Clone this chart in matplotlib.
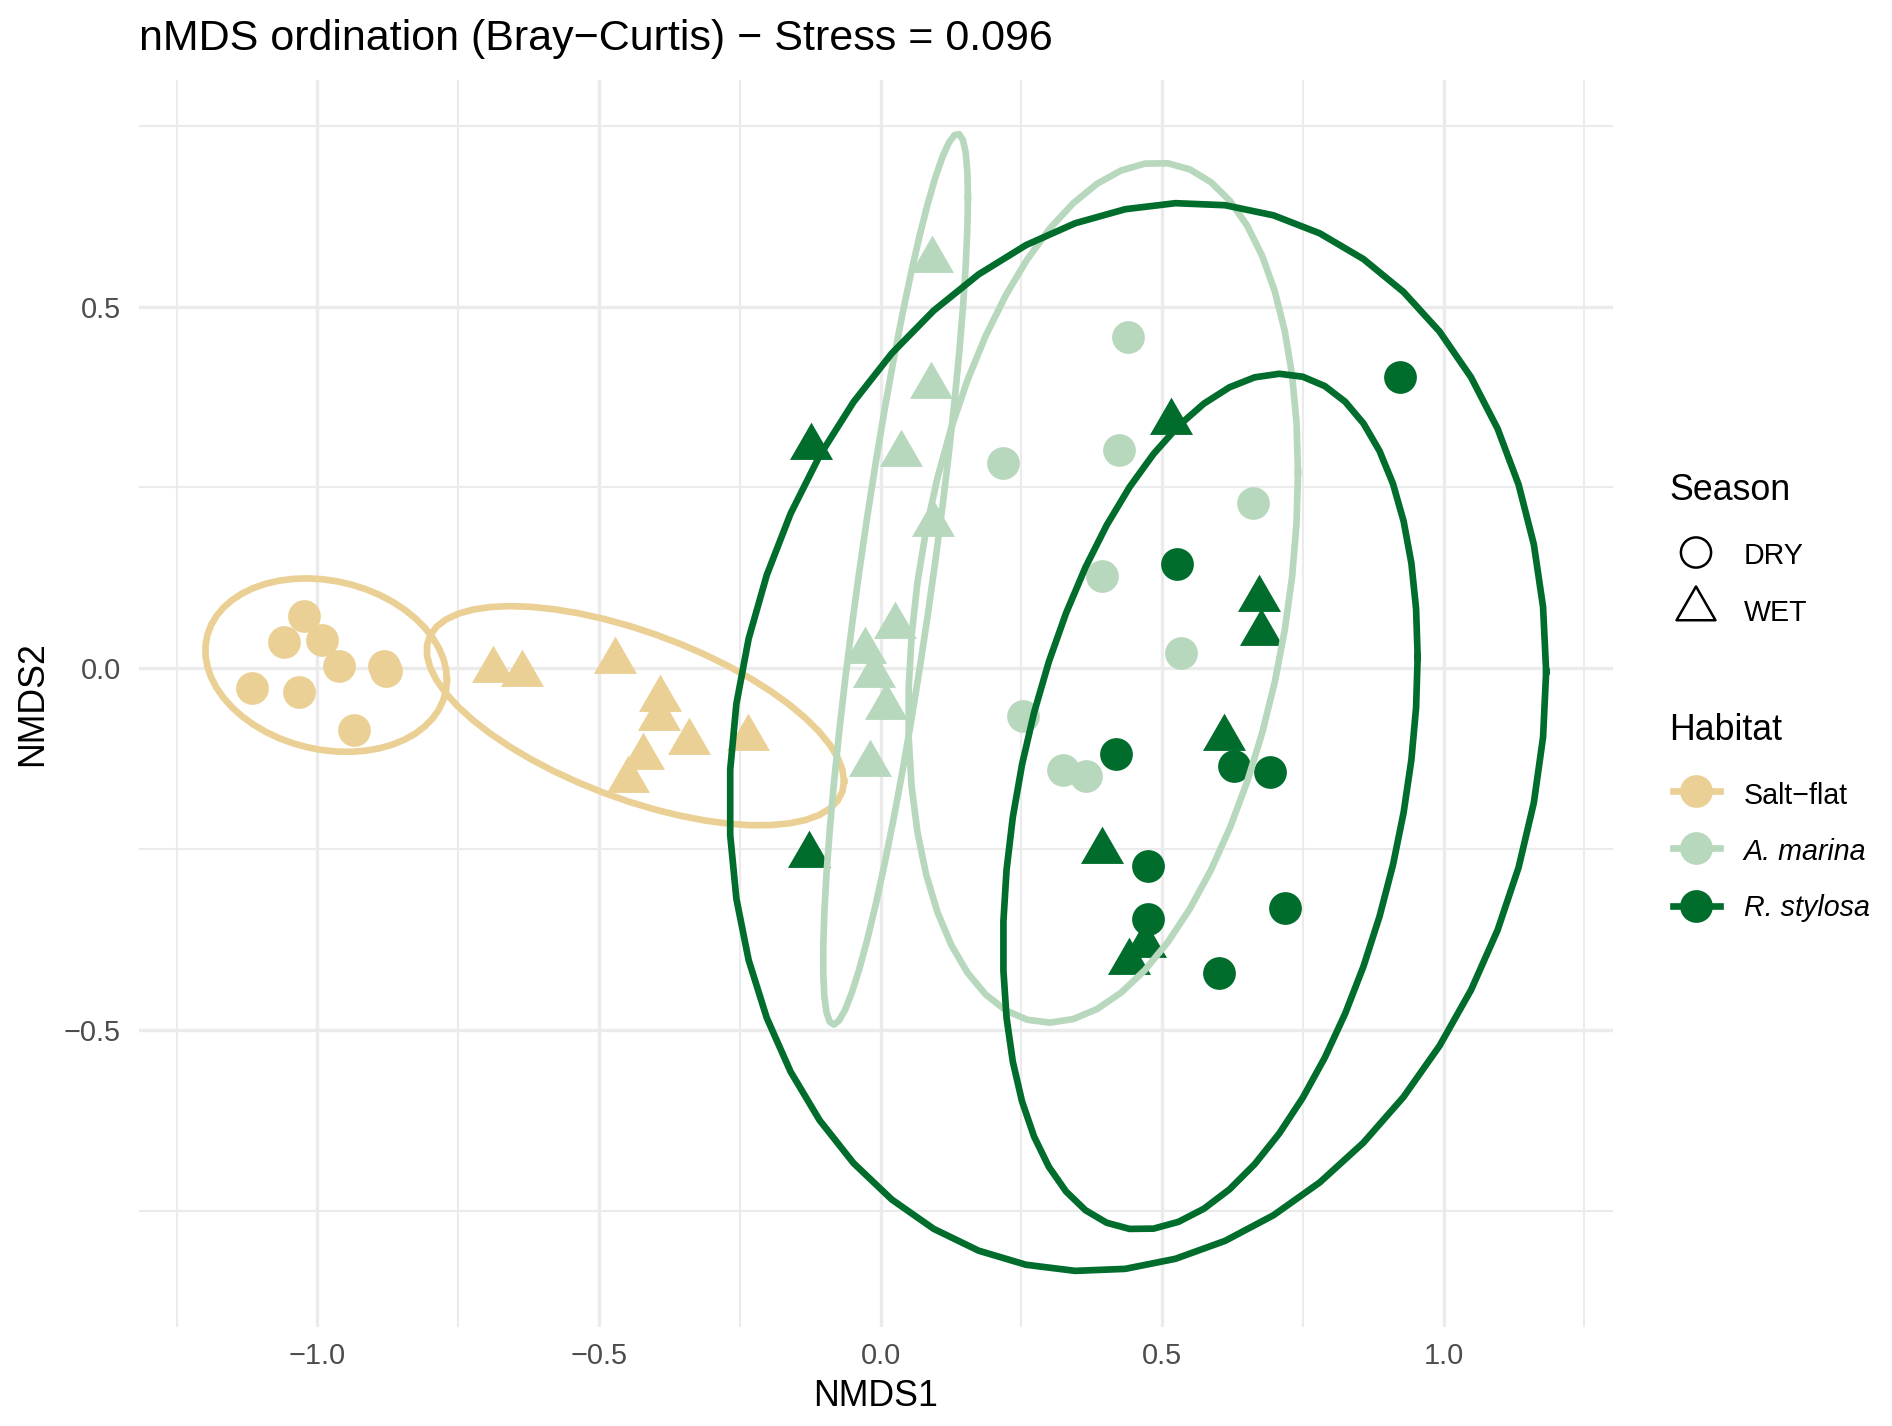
import numpy as np
import matplotlib
matplotlib.use("Agg")
import matplotlib.pyplot as plt
from matplotlib.path import Path

plt.rcParams['font.family'] = ['Liberation Sans', 'DejaVu Sans']

# nMDS scores, one list pair per Habitat x Season group
salt_dry_x = [-1.024, -1.059, -0.992, -0.961, -0.881, -0.878, -1.116, -1.032, -0.936]
salt_dry_y = [0.072, 0.036, 0.039, 0.003, 0.003, -0.004, -0.027, -0.033, -0.086]
salt_wet_x = [-0.688, -0.636, -0.472, -0.391, -0.394, -0.341, -0.422, -0.448, -0.236]
salt_wet_y = [-0.003, -0.008, 0.010, -0.042, -0.069, -0.102, -0.123, -0.154, -0.096]
amar_dry_x = [0.439, 0.218, 0.424, 0.662, 0.394, 0.533, 0.253, 0.325, 0.365]
amar_dry_y = [0.458, 0.284, 0.302, 0.228, 0.128, 0.021, -0.066, -0.141, -0.149]
amar_wet_x = [0.092, 0.090, 0.037, 0.093, 0.025, -0.028, -0.011, 0.010, -0.018]
amar_wet_y = [0.564, 0.390, 0.296, 0.199, 0.059, 0.024, -0.010, -0.054, -0.132]
rsty_dry_x = [0.923, 0.526, 0.418, 0.627, 0.691, 0.475, 0.475, 0.719, 0.601]
rsty_dry_y = [0.403, 0.144, -0.119, -0.135, -0.144, -0.273, -0.347, -0.332, -0.422]
rsty_wet_x = [-0.123, 0.516, 0.673, 0.675, 0.610, 0.394, 0.470, 0.441, -0.127]
rsty_wet_y = [0.306, 0.341, 0.096, 0.049, -0.096, -0.253, -0.383, -0.406, -0.258]

habitats = ["Salt\u2212flat", "A. marina", "R. stylosa"]
seasons = ["DRY", "WET"]
colours = ["#EBD095", "#B8D8BE", "#006D2C"]
stress = 0.096

groups = [
    (0, 0, salt_dry_x, salt_dry_y), (0, 1, salt_wet_x, salt_wet_y),
    (1, 0, amar_dry_x, amar_dry_y), (1, 1, amar_wet_x, amar_wet_y),
    (2, 0, rsty_dry_x, rsty_dry_y), (2, 1, rsty_wet_x, rsty_wet_y),
]

# triangle like R's pch 17 (centred on its centroid)
tri = Path([(0, 1), (-0.866, -0.5), (0.866, -0.5), (0, 1)],
           [Path.MOVETO, Path.LINETO, Path.LINETO, Path.CLOSEPOLY])
shapes = ['o', tri]
sizes = [139, 320]


def cov_trob(x, nu=5, maxit=25, tol=0.01):
    # same idea as MASS::cov.trob used by stat_ellipse(type = "t")
    n, p = x.shape
    wt = np.ones(n)
    loc = x.mean(0)
    w = np.sqrt(wt)
    for it in range(maxit):
        w0 = w
        X = x - loc
        A = np.sqrt(w / w.sum())[:, None] * X
        U, d, Vt = np.linalg.svd(A, full_matrices=False)
        wX = X @ Vt.T @ np.diag(1 / d)
        Q = (wX ** 2).sum(1)
        w = wt * (nu + p) / (nu + Q)
        loc = (w[:, None] * x).sum(0) / w.sum()
        if np.all(np.abs(w - w0) < tol):
            break
    sX = np.sqrt(w)[:, None] * X
    return loc, sX.T @ sX / wt.sum()


def ellipse(xs, ys, level=0.95, segments=51):
    pts = np.column_stack([xs, ys])
    centre, shape = cov_trob(pts)
    dfd = len(xs) - 1
    qf = (dfd / 2) * ((1 - level) ** (-2 / dfd) - 1)   # F quantile with dfn = 2
    radius = np.sqrt(2 * qf)
    ang = np.arange(segments + 1) * 2 * np.pi / segments
    circ = np.column_stack([np.cos(ang), np.sin(ang)])
    R = np.linalg.cholesky(shape).T
    e = centre + radius * (circ @ R)
    return e[:, 0], e[:, 1]


W, H = 1892, 1426
fig = plt.figure(figsize=(W / 200, H / 200), dpi=200)
ax = fig.add_axes([139 / W, 99 / H, 1474 / W, 1247 / H])

for h, s, xs, ys in groups:
    ax.scatter(xs, ys, marker=shapes[s], s=sizes[s], color=colours[h],
               linewidths=0, zorder=2)
for h, s, xs, ys in groups:
    ex, ey = ellipse(xs, ys)
    ax.plot(ex, ey, color=colours[h], lw=2.4, zorder=3)

ax.set_xlim(-1.317, 1.301)
ax.set_ylim(-0.911, 0.8135)
ax.set_xticks([-1.0, -0.5, 0.0, 0.5, 1.0])
ax.set_xticklabels(["\u22121.0", "\u22120.5", "0.0", "0.5", "1.0"])
ax.set_yticks([-0.5, 0.0, 0.5])
ax.set_yticklabels(["\u22120.5", "0.0", "0.5"])
ax.set_xticks([-1.25, -0.75, -0.25, 0.25, 0.75, 1.25], minor=True)
ax.set_yticks([-0.75, -0.25, 0.25, 0.75], minor=True)
ax.grid(which='major', color='#EBEBEB', lw=1.2)
ax.grid(which='minor', color='#EBEBEB', lw=0.75)
ax.set_axisbelow(True)
for sp in ax.spines.values():
    sp.set_visible(False)
ax.tick_params(axis='both', which='both', length=0, labelsize=10.4, labelcolor='#4D4D4D')
ax.tick_params(axis='x', pad=5.4)
ax.tick_params(axis='y', pad=6.6)

fig.text(139 / W, 1 - 50 / H,
         "nMDS ordination (Bray\u2212Curtis) \u2212 Stress = " + f"{stress:.3f}",
         fontsize=15.5, ha='left', va='baseline')
fig.text(876 / W, 1 - 1406.5 / H, "NMDS1", fontsize=12.9, ha='center', va='baseline')
fig.text(33 / W, 1 - 703.5 / H, "NMDS2", fontsize=12.9, ha='center', va='center',
         rotation=90)

# legend drawn by hand in pixel coordinates
lg = fig.add_axes([0, 0, 1, 1], zorder=5)
lg.set_xlim(0, W)
lg.set_ylim(H, 0)
lg.axis('off')
lg.text(1669, 500, "Season", fontsize=12.9, ha='left', va='baseline')
season_y = [552.5, 609]
season_base = [564, 620.7]
for i, lab in enumerate(seasons):
    lg.scatter([1696], [season_y[i]], marker=shapes[i], s=[118, 262][i],
               facecolors='none', edgecolors='black', linewidths=0.9)
    lg.text(1743.6, season_base[i], lab, fontsize=10.3, ha='left', va='baseline')

lg.text(1669, 740, "Habitat", fontsize=12.9, ha='left', va='baseline')
hab_y = [791.2, 848, 906]
hab_base = [804, 860, 916]
for i, lab in enumerate(habitats):
    lg.plot([1673, 1719.5], [hab_y[i], hab_y[i]], color=colours[i], lw=2.4)
    lg.scatter([1696], [hab_y[i]], marker='o', s=139, color=colours[i], linewidths=0)
    lg.text(1743.6, hab_base[i], lab, fontsize=10.3, ha='left', va='baseline',
            style='normal' if i == 0 else 'italic')

fig.savefig("out.png", dpi=200)
